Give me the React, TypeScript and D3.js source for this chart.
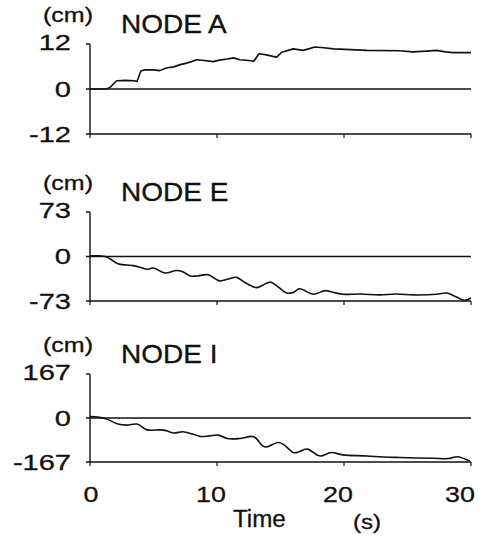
import React from "react";
import * as d3 from "d3";

// Time axis (s)
const timeTicks = [0, 10, 20, 30];
const timeTickLabels = ["0", "10", "20", "30"];

// Panel titles and symmetric y limits (cm)
const nodeNames = ["NODE A", "NODE E", "NODE I"];
const nodeLimits = [12, 73, 167];

// Displacement histories: [time (s), displacement (cm)]
const nodeA: [number, number][] = [
  [0, 0], [1.3, 0], [1.6, 0.5], [2.1, 2.2], [2.8, 2.3], [3.5, 2.2], [3.7, 2.0],
  [4.0, 4.8], [4.3, 5.1], [5.0, 5.1], [5.5, 4.9], [6.0, 5.6], [6.6, 5.9],
  [7.1, 6.5], [7.6, 6.9], [8.0, 7.3], [8.4, 7.8], [9.0, 7.6], [9.7, 7.3],
  [10.2, 7.7], [10.8, 8.0], [11.3, 8.3], [11.8, 7.8], [12.5, 7.6], [12.9, 7.4],
  [13.3, 9.4], [13.9, 9.1], [14.4, 8.7], [14.7, 8.5], [15.1, 9.8], [16.0, 10.7],
  [16.8, 10.3], [17.7, 11.2], [18.4, 11.0], [19.2, 10.7], [21.8, 10.3],
  [24.4, 10.2], [25.4, 9.9], [26.5, 10.1], [27.3, 10.3], [28.0, 9.9],
  [28.6, 9.7], [30, 9.7],
];

const nodeE: [number, number][] = [
  [0, 1], [0.8, 1], [1.2, 0], [1.6, -4], [2.2, -12], [2.9, -14], [3.4, -15],
  [4.0, -18], [4.5, -21], [5.0, -19], [5.9, -27], [6.8, -23], [7.3, -25],
  [7.9, -32], [8.4, -32], [9.3, -30], [10.2, -40], [10.9, -37], [11.5, -34],
  [12.3, -44], [13.1, -51], [13.6, -47], [14.2, -42], [14.7, -48], [15.5, -60],
  [16.0, -59], [16.5, -53], [17.6, -62], [18.5, -56], [19.2, -59], [19.9, -62],
  [21.3, -61.5], [22.8, -63], [24.1, -61.5], [25.5, -63], [27.3, -62],
  [28.1, -60], [28.9, -67], [29.5, -72], [30, -68],
];

const nodeI: [number, number][] = [
  [0, 5], [0.6, 4], [1.3, -4], [2.2, -23], [2.9, -27], [3.7, -23], [4.5, -45],
  [5.5, -45], [6.0, -48], [6.6, -57], [7.3, -52], [8.1, -61], [8.7, -70],
  [9.4, -68], [10.1, -65], [10.8, -78], [11.8, -78], [12.9, -71], [13.6, -106],
  [13.9, -110], [14.8, -93], [15.2, -99], [16.0, -131], [16.3, -131],
  [17.1, -118], [17.9, -141], [18.2, -144], [19.0, -131], [19.9, -140],
  [21.8, -144], [23.1, -148], [24.4, -150], [27.0, -153], [28.3, -154],
  [28.9, -147], [29.9, -163],
];

const series = [nodeA, nodeE, nodeI];

// Layout
const W = 482;
const H = 548;
const left = 90;
const right = 471;
const panelTops = [44, 212, 374];
const panelBottoms = [134, 301, 462];
const FONT = "'Liberation Sans', Arial, Helvetica, sans-serif";
const INK = "#111";

const x = d3.scaleLinear().domain([0, 30]).range([left, right]);

type STextProps = {
  x: number;
  y: number;
  size: number;
  sx?: number;
  anchor?: "start" | "middle" | "end";
  children: React.ReactNode;
};

// Horizontally widened text
function SText({ x, y, size, sx = 1.2, anchor = "start", children }: STextProps) {
  return (
    <g transform={`translate(${x},${y}) scale(${sx},1)`}>
      <text
        textAnchor={anchor}
        fontSize={size}
        fontFamily={FONT}
        fill={INK}
        stroke={INK}
        strokeWidth={0.3}
      >
        {children}
      </text>
    </g>
  );
}

function Panel({ i }: { i: number }) {
  const lim = nodeLimits[i];
  const y = d3
    .scaleLinear()
    .domain([-lim, lim])
    .range([panelBottoms[i], panelTops[i]]);
  const line = d3
    .line<[number, number]>()
    .x((d) => x(d[0]))
    .y((d) => y(d[1]))
    .curve(i === 0 ? d3.curveLinear : d3.curveCatmullRom.alpha(0.5));
  const yTicks = [lim, 0, -lim];
  const tickLen = 4;
  return (
    <g>
      {/* unit and title */}
      <SText x={43} y={y(lim) - 22} size={20} sx={1.25}>(cm)</SText>
      <SText x={121} y={y(lim) - 11} size={25} sx={1.12}>{nodeNames[i]}</SText>

      {/* y tick labels */}
      {yTicks.map((t) => (
        <SText key={t} x={71} y={y(t) + 7.5 - (t > 0 ? 1.5 : 0)} size={22} sx={1.32} anchor="end">
          {t === 0 ? "0" : t > 0 ? String(t) : "-" + String(-t)}
        </SText>
      ))}

      {/* y axis with outward ticks */}
      <line x1={left} x2={left} y1={y(lim)} y2={y(-lim)} stroke={INK} strokeWidth={1.4} />
      <line x1={left - tickLen} x2={left} y1={y(lim)} y2={y(lim)} stroke={INK} strokeWidth={1.4} />

      {/* zero reference line */}
      <line x1={left - tickLen} x2={right} y1={y(0)} y2={y(0)} stroke={INK} strokeWidth={1.7} />

      {/* bottom time axis */}
      <line x1={left - tickLen} x2={right} y1={y(-lim)} y2={y(-lim)} stroke={INK} strokeWidth={1.6} />
      {timeTicks.map((t) => (
        <line
          key={t}
          x1={x(t)}
          x2={x(t)}
          y1={y(-lim)}
          y2={y(-lim) + tickLen}
          stroke={INK}
          strokeWidth={1.2}
        />
      ))}

      {/* displacement trace */}
      <path d={line(series[i]) ?? ""} fill="none" stroke={INK} strokeWidth={1.6} strokeLinejoin="round" />
    </g>
  );
}

const tickLabelShift = [1, -6, -6, -11];

export default function App() {
  return (
    <svg width={W} height={H} viewBox={`0 0 ${W} ${H}`} style={{ display: "block", position: "absolute", left: 0, top: 0, background: "#fff" }}>
      <rect width={W} height={H} fill="#fff" />
      {nodeNames.map((_, i) => (
        <Panel key={i} i={i} />
      ))}
      {timeTicks.map((t, k) => (
        <SText key={t} x={x(t) + tickLabelShift[k]} y={502} size={22} sx={1.22} anchor="middle">
          {timeTickLabels[k]}
        </SText>
      ))}
      <SText x={233} y={527} size={23} sx={1.05}>Time</SText>
      <SText x={353} y={529} size={21} sx={1.15}>(s)</SText>
    </svg>
  );
}
